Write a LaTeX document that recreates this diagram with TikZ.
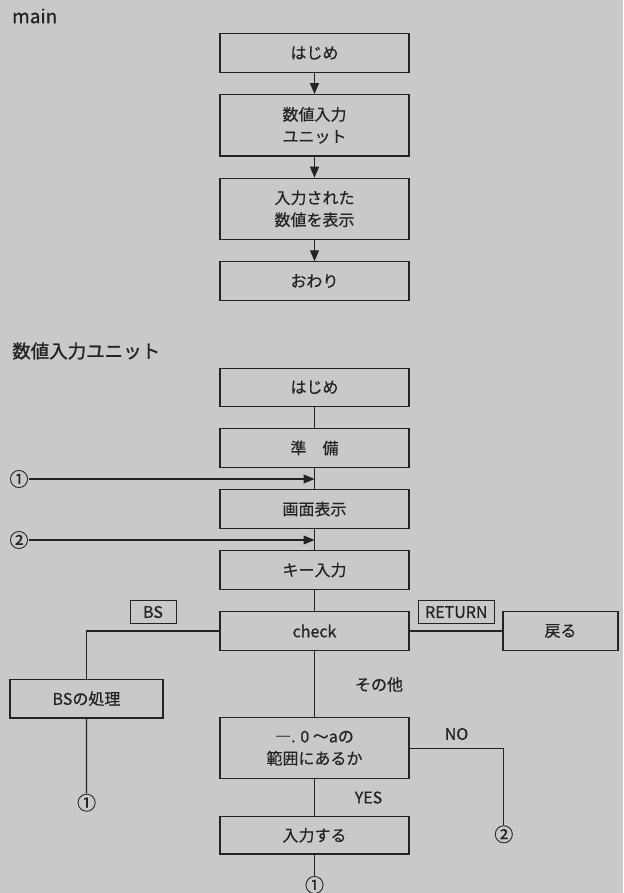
\documentclass[tikz,border=0pt]{standalone}
\usepackage{fontspec}
\setmainfont{Noto Sans CJK JP}[FakeBold=0.5]
\newfontfamily\ttlfont{Noto Sans CJK JP}[FakeBold=1.2]
\usetikzlibrary{arrows.meta}
\definecolor{paper}{RGB}{201,201,199}
\definecolor{ink}{RGB}{35,35,35}
\begin{document}
\begin{tikzpicture}[x=1pt,y=-1pt,
  every node/.style={text=ink, font=\fontsize{16}{22}\selectfont},
  box/.style={draw=ink, line width=1.2pt, inner sep=0pt, align=center, minimum width=189pt},
  tag/.style={draw=ink, line width=1pt, inner sep=0pt, align=center, font=\fontsize{16}{16}\selectfont},
  lbl/.style={inner sep=0pt, font=\fontsize{16}{16}\selectfont},
  circ/.style={inner sep=0pt, font=\fontsize{19}{19}\selectfont},
  ttl/.style={inner sep=0pt, anchor=west},
  conn/.style={draw=ink, line width=1.2pt},
  arr/.style={conn, -{Triangle[length=11pt,width=9pt]}}]
\fill[paper] (0,0) rectangle (623,893);
\useasboundingbox (0,0) rectangle (623,893);

% main
\node[ttl, font=\fontsize{19}{20}\selectfont] (tmain) at (12,16) {main};
\node[box, minimum height=38.5pt] (m1) at (314.5,53) {はじめ};
\node[box, minimum height=61.3pt] (m2) at (314.5,125.3) {数値入力\\ユニット};
\node[box, minimum height=61pt] (m3) at (314.5,208.8) {入力された\\数値を表示};
\node[box, minimum height=38.3pt] (m4) at (314.5,281) {おわり};
\draw[arr] (m1) -- (m2);
\draw[arr] (m2) -- (m3);
\draw[arr] (m3) -- (m4);

% unit
\node[ttl, font=\ttlfont\fontsize{18.5}{20}\selectfont] (tunit) at (12,351) {数値入力ユニット};
\node[box, minimum height=38pt] (n1) at (314.5,387.3) {はじめ};
\node[box, minimum height=38.3pt] (n2) at (314.5,448) {準　備};
\node[box, minimum height=38.3pt] (n3) at (314.5,509) {画面表示};
\node[box, minimum height=38.3pt] (n4) at (314.5,570) {キー入力};
\node[box, minimum height=38.3pt] (chk) at (314.5,631) {check};
\node[box, minimum width=153pt, minimum height=38.7pt] (bsp) at (86.5,698.7) {BSの処理};
\node[box, minimum width=115pt, minimum height=38.3pt] (ret) at (560.5,631) {戻る};
\node[box, minimum height=61pt] (rng) at (314.5,748.2) {―. 0 ～aの\\範囲にあるか};
\node[box, minimum height=37.3pt] (inp) at (314.5,835.3) {入力する};

\node[tag, minimum width=46pt, minimum height=22.6pt] (tbs) at (153,612) {BS};
\node[tag, minimum width=76.6pt, minimum height=23pt] (tret) at (456.3,612.2) {RETURN};
\node[lbl] (lother) at (379,684.5) {その他};
\node[lbl] (lno) at (456.5,734) {NO};
\node[lbl] (lyes) at (368.5,797.5) {YES};

\node[circ] (c1a) at (19,479) {①};
\node[circ] (c2a) at (19,540) {②};
\node[circ] (c1b) at (86.6,802.7) {①};
\node[circ] (c2b) at (503.8,834.3) {②};
\node[circ] (c1c) at (314.5,885) {①};

\coordinate (j1) at (314.5,479);
\coordinate (j2) at (314.5,540);

\draw[conn] (n1) -- (n2);
\draw[conn] (n2) -- (n3);
\draw[conn] (n3) -- (n4);
\draw[conn] (n4) -- (chk);
\draw[arr] (c1a) -- (j1);
\draw[arr] (c2a) -- (j2);
\draw[conn] (chk.west) -| (bsp.north);
\draw[conn] (bsp) -- (c1b);
\draw[conn] (chk) -- (ret);
\draw[conn] (chk) -- (rng);
\draw[conn] (rng.east) -| (c2b.north);
\draw[conn] (rng) -- (inp);
\draw[conn] (inp) -- (c1c);
\end{tikzpicture}
\end{document}
